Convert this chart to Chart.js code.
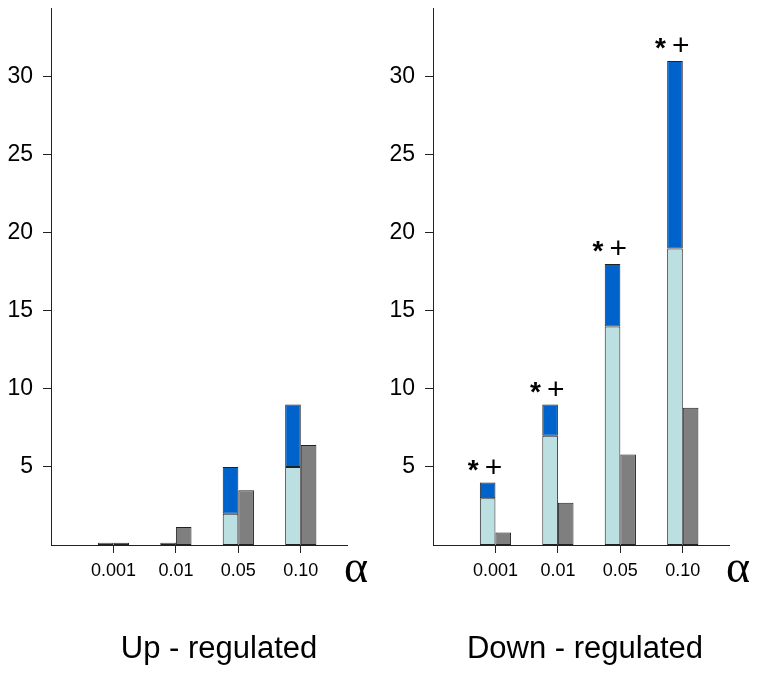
<!DOCTYPE html>
<html>
<head>
<meta charset="utf-8">
<script src="https://cdn.jsdelivr.net/npm/chart.js@4.4.1/dist/chart.umd.min.js"></script>
<style>
  html, body { margin: 0; padding: 0; background: #fff; }
  .panel { position: absolute; top: 0; width: 382px; height: 674px; }
  #left { left: 0; }
  #right { left: 382px; }
</style>
</head>
<body>
<div class="panel" id="left"><canvas id="upChart" width="382" height="674"></canvas></div>
<div class="panel" id="right"><canvas id="downChart" width="382" height="674"></canvas></div>
<script>
// categories (significance level alpha)
const alphaLevels = ['0.001', '0.01', '0.05', '0.10'];
const yTicks = [5, 10, 15, 20, 25, 30];

// up-regulated
const upLight = [0.15, 0.15, 2, 5];
const upDark = [0, 0, 3, 4];
const upGrey = [0.15, 1.15, 3.5, 6.4];
const upMarks = ['', '', '', ''];

// down-regulated
const downLight = [3, 7, 14, 19];
const downDark = [1, 2, 4, 12];
const downGrey = [0.8, 2.7, 5.8, 8.8];
const downMarks = ['*+', '*+', '*+', '*+'];

const SANS = '"Liberation Sans", Arial, Helvetica, sans-serif';
const AXIS = '#222';

function pts(values) {
    return values.map((v, i) => ({ x: i + 1, y: v }));
}

// titles, alpha symbol and significance marks
const panelText = {
    id: 'panelText',
    afterDraw(chart, args, opts) {
        const ctx = chart.ctx;
        const xs = chart.scales.x;
        const area = chart.chartArea;
        ctx.save();
        ctx.fillStyle = '#000';

        ctx.font = '46px "Liberation Serif", "DejaVu Serif", serif';
        ctx.textAlign = 'left';
        ctx.textBaseline = 'alphabetic';
        ctx.fillText('α', xs.right - 3, xs.top + 37);

        ctx.font = '31px ' + SANS;
        ctx.textAlign = 'center';
        ctx.fillText(opts.title, (area.left + area.right) / 2 + opts.titleShift, 658);

        const top = chart.getDatasetMeta(1).data;
        opts.marks.forEach((m, i) => {
            if (!m) return;
            const bar = top[i];
            ctx.textAlign = 'left';
            ctx.font = 'bold 28px ' + SANS;
            ctx.fillText('*', bar.x - 20, bar.y - 4);
            ctx.font = '30px ' + SANS;
            ctx.fillText('+', bar.x - 3, bar.y - 6);
        });
        ctx.restore();
    }
};

function makePanel(id, light, dark, grey, marks, title, titleShift) {
    const ctx = document.getElementById(id).getContext('2d');
    const common = { borderColor: AXIS, borderWidth: 1, borderSkipped: false,
                     categoryPercentage: 0.5, barPercentage: 1 };
    return new Chart(ctx, {
        type: 'bar',
        data: {
            datasets: [
                Object.assign({ data: pts(light), backgroundColor: '#bcdfe2', stack: 'a' }, common),
                Object.assign({ data: pts(dark), backgroundColor: '#0063cc', stack: 'a' }, common),
                Object.assign({ data: pts(grey), backgroundColor: '#7f7f7f', stack: 'b' }, common)
            ]
        },
        options: {
            responsive: false,
            animation: false,
            devicePixelRatio: 1,
            layout: { padding: { top: 8, right: 35, left: 0, bottom: 0 } },
            plugins: {
                legend: { display: false },
                tooltip: { enabled: false },
                panelText: { title: title, titleShift: titleShift, marks: marks }
            },
            scales: {
                x: {
                    type: 'linear',
                    offset: false,
                    min: 0,
                    max: 4.74,
                    afterBuildTicks: s => { s.ticks = alphaLevels.map((_, i) => ({ value: i + 1 })); },
                    afterFit: s => { s.height = 129; s.paddingLeft = 0; s.paddingRight = 0; },
                    border: { display: true, color: AXIS, width: 1 },
                    grid: { display: true, offset: false, drawOnChartArea: false, drawTicks: true,
                            tickLength: 8, tickColor: AXIS },
                    ticks: {
                        color: '#000',
                        font: { family: SANS, size: 18 },
                        padding: 7,
                        maxRotation: 0,
                        autoSkip: false,
                        callback: v => alphaLevels[v - 1]
                    }
                },
                y: {
                    stacked: true,
                    min: 0,
                    max: 34.4,
                    afterBuildTicks: s => { s.ticks = yTicks.map(v => ({ value: v })); },
                    afterFit: s => { s.width = 51; s.paddingTop = 0; s.paddingBottom = 0; },
                    border: { display: true, color: AXIS, width: 1 },
                    grid: { display: true, drawOnChartArea: false, drawTicks: true,
                            tickLength: 8, tickColor: AXIS },
                    ticks: {
                        color: '#000',
                        font: { family: SANS, size: 23 },
                        padding: 10
                    }
                }
            }
        },
        plugins: [panelText]
    });
}

makePanel('upChart', upLight, upDark, upGrey, upMarks, 'Up - regulated', 20);
makePanel('downChart', downLight, downDark, downGrey, downMarks, 'Down - regulated', 4);
</script>
</body>
</html>
